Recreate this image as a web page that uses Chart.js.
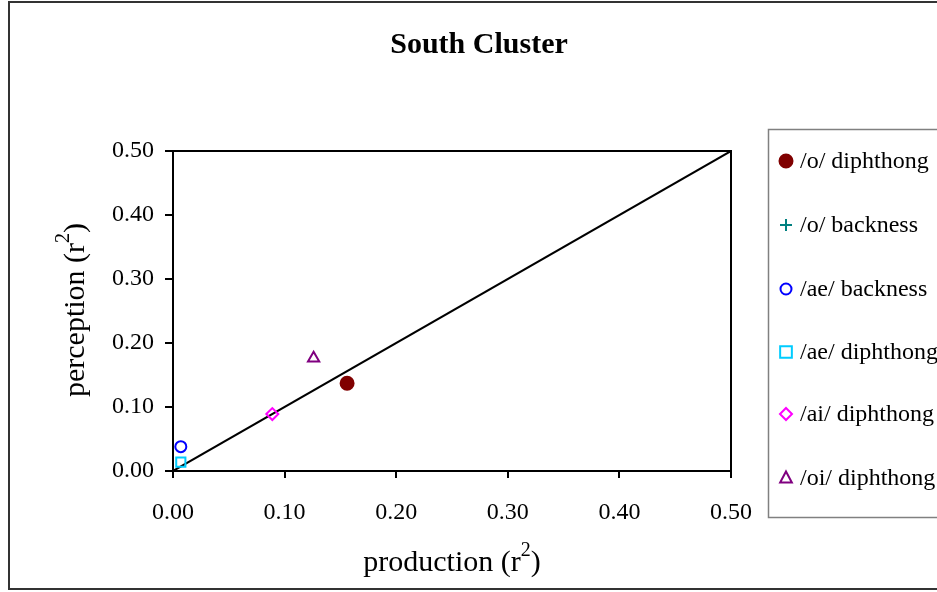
<!DOCTYPE html>
<html>
<head>
<meta charset="utf-8">
<title>South Cluster</title>
<script src="https://cdn.jsdelivr.net/npm/chart.js@4.4.1/dist/chart.umd.min.js"></script>
<style>
  html, body { margin: 0; padding: 0; background: #ffffff; }
  canvas { display: block; }
</style>
</head>
<body>
<canvas id="chart" width="937" height="592"></canvas>
<script>
// Series labels, one per vowel measure
const seriesNames = ['/o/ diphthong', '/o/ backness', '/ae/ backness', '/ae/ diphthong', '/ai/ diphthong', '/oi/ diphthong'];
// Production r² (x) and perception r² (y) for each measure
const productionR2 = [0.156, 0.000, 0.007, 0.007, 0.089, 0.126];
const perceptionR2 = [0.137, 0.000, 0.038, 0.014, 0.089, 0.176];
// Reference diagonal y = x
const diagonalX = [0, 0.5];
const diagonalY = [0, 0.5];
// Axis ticks
const tickValues = [0, 0.1, 0.2, 0.3, 0.4, 0.5];

const markerStyles = [
  { pointStyle: 'circle',   color: '#800000', fill: true,  radius: 6.5 },
  { pointStyle: 'cross',    color: '#008080', fill: false, radius: 6 },
  { pointStyle: 'circle',   color: '#0000FF', fill: false, radius: 5.5 },
  { pointStyle: 'rect',     color: '#00CCFF', fill: false, radius: 6.5 },
  { pointStyle: 'rectRot',  color: '#FF00FF', fill: false, radius: 6 },
  { pointStyle: 'triangle', color: '#800080', fill: false, radius: 6.5 }
];

const SERIF = '"Liberation Serif", "Times New Roman", serif';

const scatterSets = seriesNames.map((name, i) => {
  const m = markerStyles[i];
  return {
    type: 'scatter',
    label: name,
    data: [{ x: productionR2[i], y: perceptionR2[i] }],
    pointStyle: m.pointStyle,
    pointRadius: m.radius,
    pointHoverRadius: m.radius,
    borderColor: m.color,
    backgroundColor: m.fill ? m.color : 'rgba(0,0,0,0)',
    borderWidth: 2,
    order: 1
  };
});

const diagonalSet = {
  type: 'line',
  label: 'diagonal',
  data: diagonalX.map((x, i) => ({ x: x, y: diagonalY[i] })),
  borderColor: '#000000',
  borderWidth: 2,
  pointRadius: 0,
  fill: false,
  order: 2
};

// Frame, plot box, title, axis titles and legend
const decorations = {
  id: 'decorations',
  afterDraw(chart) {
    const ctx = chart.ctx;
    const a = chart.chartArea;
    ctx.save();

    // plot box
    ctx.strokeStyle = '#000000';
    ctx.lineWidth = 2;
    ctx.strokeRect(a.left, a.top, a.right - a.left, a.bottom - a.top);

    // outer frame
    ctx.strokeStyle = '#333333';
    ctx.lineWidth = 2;
    ctx.strokeRect(9, 2, 940, 587);

    // title
    ctx.fillStyle = '#000000';
    ctx.font = 'bold 30px ' + SERIF;
    ctx.textAlign = 'center';
    ctx.textBaseline = 'middle';
    ctx.fillText('South Cluster', 479, 45);

    // x-axis title with superscript
    drawSupTitle(ctx, 'production (r', '2', ')', 452, 561, 0);
    // y-axis title with superscript
    drawSupTitle(ctx, 'perception (r', '2', ')', 74, 310, -Math.PI / 2);

    // legend
    ctx.strokeStyle = '#808080';
    ctx.lineWidth = 1.5;
    ctx.strokeRect(768.5, 129.5, 200, 388);
    const rowY = [161, 225, 289, 352, 414, 478];
    ctx.font = '24px ' + SERIF;
    ctx.textAlign = 'left';
    ctx.textBaseline = 'middle';
    chart.data.datasets.forEach((ds) => {
      if (ds.type !== 'scatter') return;
      const i = seriesNames.indexOf(ds.label);
      const y = rowY[i];
      const m = markerStyles[i];
      ctx.fillStyle = ds.backgroundColor;
      ctx.strokeStyle = ds.borderColor;
      ctx.lineWidth = 2;
      ctx.beginPath();
      drawMarker(ctx, ds.pointStyle, 786, y, m.radius);
      if (m.fill) ctx.fill();
      ctx.stroke();
      ctx.fillStyle = '#000000';
      ctx.fillText(ds.label, 800, y + 1);
    });

    ctx.restore();
  }
};

function drawMarker(ctx, style, x, y, r) {
  if (style === 'circle') {
    ctx.arc(x, y, r, 0, Math.PI * 2);
  } else if (style === 'cross') {
    ctx.moveTo(x - r, y); ctx.lineTo(x + r, y);
    ctx.moveTo(x, y - r); ctx.lineTo(x, y + r);
  } else if (style === 'rect') {
    const s = r * 0.9;
    ctx.rect(x - s, y - s, 2 * s, 2 * s);
  } else if (style === 'rectRot') {
    ctx.moveTo(x, y - r); ctx.lineTo(x + r, y); ctx.lineTo(x, y + r); ctx.lineTo(x - r, y); ctx.closePath();
  } else if (style === 'triangle') {
    ctx.moveTo(x, y - r); ctx.lineTo(x + r * 0.9, y + r * 0.7); ctx.lineTo(x - r * 0.9, y + r * 0.7); ctx.closePath();
  }
}

function drawSupTitle(ctx, main, sup, tail, cx, cy, rot) {
  ctx.save();
  ctx.translate(cx, cy);
  ctx.rotate(rot);
  ctx.fillStyle = '#000000';
  ctx.textBaseline = 'alphabetic';
  ctx.textAlign = 'left';
  const mainFont = '30px ' + SERIF;
  const supFont = '20px ' + SERIF;
  ctx.font = mainFont;
  const w1 = ctx.measureText(main).width;
  const w3 = ctx.measureText(tail).width;
  ctx.font = supFont;
  const w2 = ctx.measureText(sup).width;
  const total = w1 + w2 + w3;
  let x = -total / 2;
  const base = 10;
  ctx.font = mainFont;
  ctx.fillText(main, x, base);
  x += w1;
  ctx.font = supFont;
  ctx.fillText(sup, x, base - 15);
  x += w2;
  ctx.font = mainFont;
  ctx.fillText(tail, x, base);
  ctx.restore();
}

new Chart(document.getElementById('chart'), {
  data: { datasets: [diagonalSet].concat(scatterSets) },
  options: {
    responsive: false,
    animation: false,
    events: [],
    layout: { padding: { left: 0, top: 151, right: 206, bottom: 0 } },
    plugins: {
      legend: { display: false },
      title: { display: false },
      tooltip: { enabled: false }
    },
    scales: {
      x: {
        type: 'linear',
        min: 0, max: 0.5,
        afterBuildTicks(scale) { scale.ticks = tickValues.map(v => ({ value: v })); },
        afterFit(scale) { scale.height = 121; },
        grid: { drawOnChartArea: false, drawTicks: true, tickLength: 7, color: '#000000', lineWidth: 2 },
        border: { display: true, color: '#000000', width: 2 },
        ticks: {
          color: '#000000',
          padding: 20,
          maxRotation: 0,
          font: { family: SERIF, size: 24 },
          callback: v => v.toFixed(2)
        }
      },
      y: {
        type: 'linear',
        min: 0, max: 0.5,
        afterBuildTicks(scale) { scale.ticks = tickValues.map(v => ({ value: v })); },
        afterFit(scale) { scale.width = 173; },
        grid: { drawOnChartArea: false, drawTicks: true, tickLength: 8, color: '#000000', lineWidth: 2 },
        border: { display: true, color: '#000000', width: 2 },
        ticks: {
          color: '#000000',
          padding: 11,
          font: { family: SERIF, size: 24 },
          callback: v => v.toFixed(2)
        }
      }
    }
  },
  plugins: [decorations]
});
</script>
</body>
</html>
